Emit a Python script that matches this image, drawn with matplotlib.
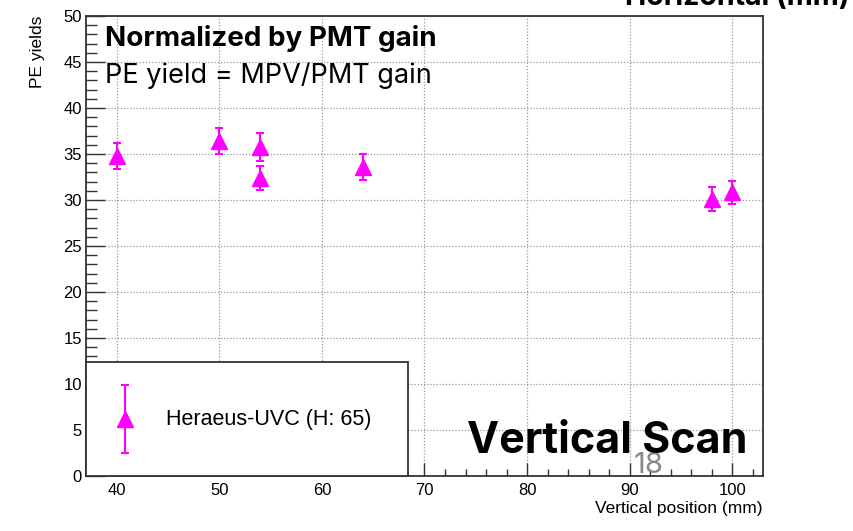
import matplotlib
matplotlib.use("Agg")
import matplotlib.pyplot as plt
import matplotlib.transforms as mtransforms
from matplotlib.ticker import MultipleLocator
from matplotlib.container import ErrorbarContainer
from matplotlib.legend_handler import HandlerErrorbar


# DATA

vertical_pos = [40, 50, 54, 54, 64, 98, 100]
pe_yield = [34.8, 36.4, 35.75, 32.4, 33.6, 30.1, 30.85]
pe_err = [1.4, 1.4, 1.55, 1.3, 1.4, 1.3, 1.25]

legend_label = "Heraeus-UVC (H: 65)"


# STYLE

plt.rcParams["font.family"] = ["Liberation Sans", "DejaVu Sans"]
magenta = "#ff00ff"
slide_font = ["Inter", "DejaVu Sans"]


class ShiftedErrorbar(HandlerErrorbar):
    # legend errorbar handle, moved down so it lines up with the text
    def __init__(self, dy, **kw):
        super().__init__(**kw)
        self.dy = dy

    def create_artists(self, legend, orig_handle, xdescent, ydescent,
                       width, height, fontsize, trans):
        arts = super().create_artists(legend, orig_handle, xdescent, ydescent,
                                      width, height, fontsize, trans)
        t = mtransforms.Affine2D().translate(0, self.dy) + trans
        for a in arts:
            a.set_transform(t)
        return arts


# FIGURE

fig = plt.figure(figsize=(8.54, 5.31), dpi=100)
ax = fig.add_axes([86 / 854, 55 / 531, 677 / 854, 460 / 531])

eb = ax.errorbar(vertical_pos, pe_yield, yerr=pe_err, fmt="^", color=magenta,
                 ms=11, elinewidth=1.5, capsize=3, capthick=1.5, zorder=3,
                 label=legend_label)

ax.set_xlim(37, 103)
ax.set_ylim(0, 50)

ax.xaxis.set_major_locator(MultipleLocator(10))
ax.xaxis.set_minor_locator(MultipleLocator(2))
ax.yaxis.set_major_locator(MultipleLocator(5))
ax.yaxis.set_minor_locator(MultipleLocator(1))

ax.tick_params(axis="both", which="both", direction="in", labelsize=12, color="#333333")
ax.tick_params(axis="x", which="major", length=9.5, width=1, pad=5)
ax.tick_params(axis="x", which="minor", length=5, width=1)
ax.tick_params(axis="y", which="major", length=13.5, width=1, pad=3)
ax.tick_params(axis="y", which="minor", length=8, width=1)

for s in ax.spines.values():
    s.set_linewidth(1.3)
    s.set_color("#333333")

ax.grid(True, which="major", color="#999999", linestyle=(0, (1, 1.5)), linewidth=0.9)
ax.set_axisbelow(True)

ax.set_xlabel("Vertical position (mm)", fontsize=12.5, loc="right", labelpad=2)
ax.set_ylabel("PE yields", fontsize=12.5, loc="top", labelpad=13)

leg = ax.legend(loc="lower left", bbox_to_anchor=(0, 0, 322 / 677, 114 / 460),
                mode="expand", borderaxespad=0, fancybox=False, framealpha=1,
                edgecolor="#333333", fontsize=15.5, numpoints=1,
                handleheight=3.5, borderpad=1.38, handlelength=0.85,
                handletextpad=1.49,
                handler_map={ErrorbarContainer: ShiftedErrorbar(-7.5, yerr_size=1.6)})
leg.get_frame().set_linewidth(1.3)

# slide annotations
fig.text(105 / 854, 1 - 46.5 / 531, "Normalized by PMT gain", fontsize=20,
         fontweight="bold", family=slide_font, va="baseline")
fig.text(105 / 854, 1 - 83 / 531, "PE yield = MPV/PMT gain", fontsize=19.5,
         family=slide_font, va="baseline")
fig.text(467 / 854, 1 - 453 / 531, "Vertical Scan", fontsize=31,
         fontweight="bold", family=slide_font, va="baseline", zorder=10)
fig.text(634 / 854, 1 - 473 / 531, "18", fontsize=21, color="#888888",
         family=slide_font, va="baseline")
fig.text(625 / 854, 1 - 5 / 531, "Horizontal (mm)", fontsize=20.5,
         fontweight="bold", family=slide_font, va="baseline")

fig.savefig("out.png", dpi=100)
